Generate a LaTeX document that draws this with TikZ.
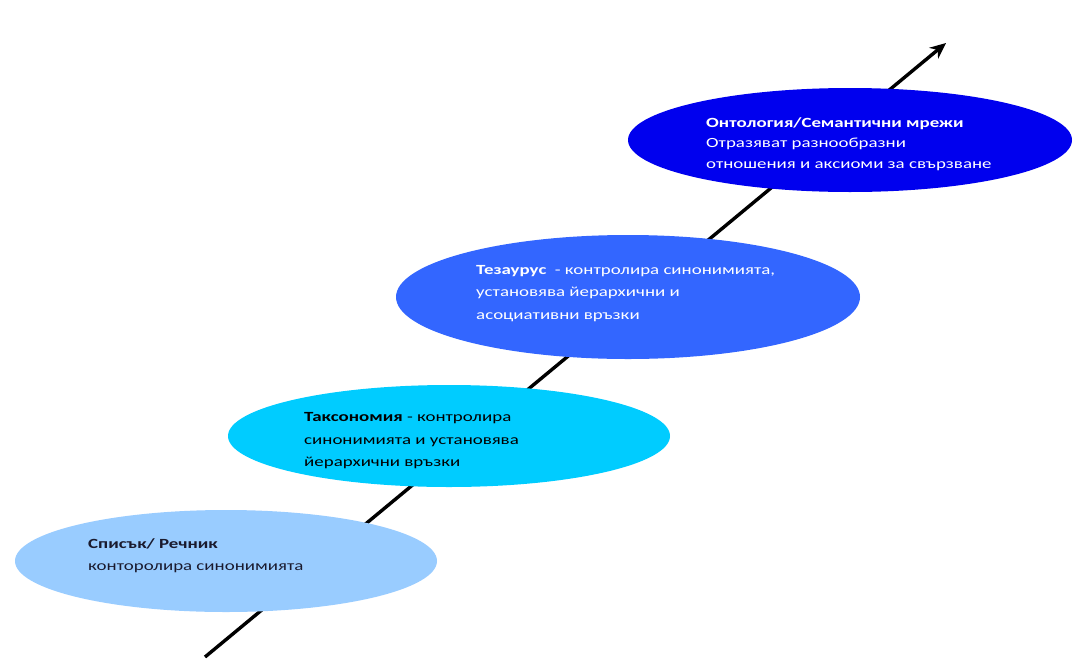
\documentclass[tikz,border=0pt]{standalone}
\usepackage{fontspec}
\setmainfont{Carlito}[FakeStretch=1.35]
\usetikzlibrary{arrows.meta,shapes.geometric}
\definecolor{listfill}{HTML}{99CCFF}
\definecolor{taxfill}{HTML}{00CCFF}
\definecolor{thesfill}{HTML}{3366FF}
\definecolor{ontofill}{HTML}{0000EE}
\definecolor{darktext}{HTML}{1A1A2E}
\begin{document}
\begin{tikzpicture}[x=1pt,y=-1pt,
  level/.style={ellipse, draw=none, inner sep=0pt},
  desc/.style={anchor=north west, inner sep=0pt, align=left,
    font=\fontsize{14}{22.5}\selectfont},
  growth/.style={line width=3.4pt, -{Stealth[length=16pt,width=14pt]}}]
\useasboundingbox (0,0) rectangle (1075,664);
\fill[white] (0,0) rectangle (1075,664);

% direction of growth in expressiveness, running behind the levels
\coordinate (start) at (205,657);
\coordinate (tip) at (946,43);
\draw[growth] (start) -- (tip);

% levels, from the simplest to the richest
\node[level, fill=listfill, minimum width=422pt, minimum height=102pt] (list) at (226,561) {};
\node[level, fill=taxfill, minimum width=442pt, minimum height=102pt] (tax) at (449,436) {};
\node[level, fill=thesfill, minimum width=464pt, minimum height=124pt] (thes) at (628,297) {};
\node[level, fill=ontofill, minimum width=444pt, minimum height=104pt] (onto) at (850,140) {};

% descriptions
\node[desc, text=darktext] (listtxt) at (88,538)
  {\textbf{Списък/ Речник}\\конторолира синонимията};
\node[desc, text=black] (taxtxt) at (304,412.5)
  {\textbf{Таксономия} - контролира\\синонимията и установява\\йерархични връзки};
\node[desc, text=white] (thestxt) at (476,265)
  {\textbf{Тезаурус}\ \ - контролира синонимията,\\установява йерархични и\\асоциативни връзки};
\node[desc, text=white, font=\fontsize{14}{20.5}\selectfont] (ontotxt) at (706,117)
  {\textbf{Онтология/Семантични мрежи}\\Отразяват разнообразни\\отношения и аксиоми за свързване};
\end{tikzpicture}
\end{document}
